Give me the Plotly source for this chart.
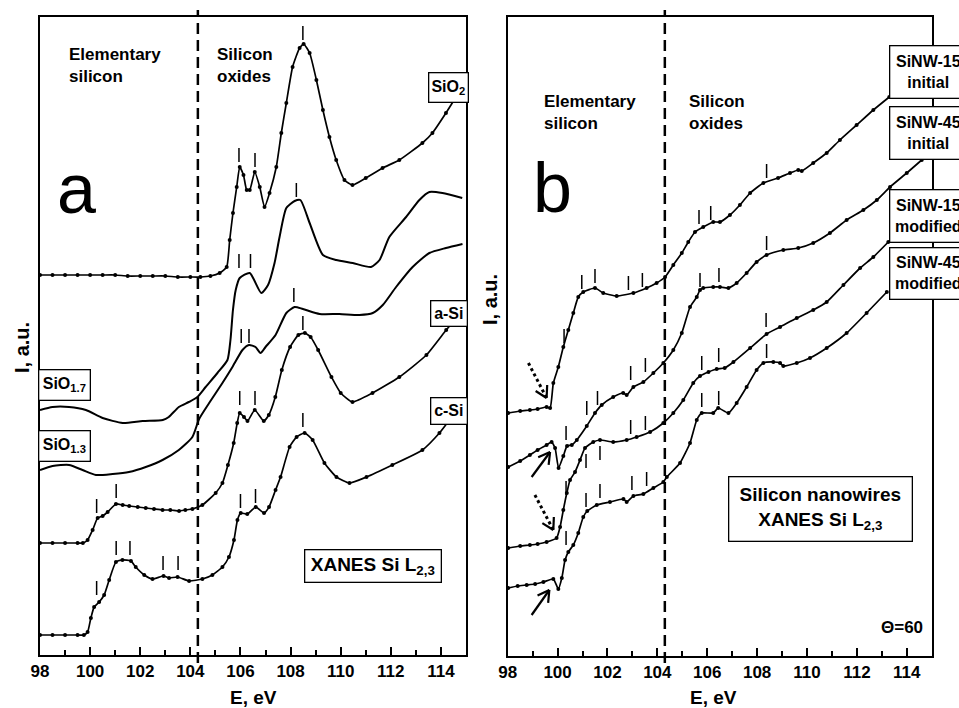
import numpy as np
import plotly.graph_objects as go

W, H = 959, 708
FONT = "Liberation Sans"

# ---------------- Panel a data (E in eV, I in a.u.) ----------------
E_sio2 = [98.0, 98.5, 99.0, 99.5, 100.0, 100.5, 101.0, 101.5, 102.0, 102.5, 103.0, 103.5, 104.0, 104.4, 104.8,
          105.17, 105.45, 105.57, 105.7, 105.85, 105.97, 106.12, 106.25, 106.37, 106.57, 106.77, 106.96, 107.16,
          107.43, 107.63, 107.83, 108.08, 108.36, 108.52, 108.76, 109.03, 109.29, 109.55, 109.82, 110.15, 110.47,
          111.0, 111.67, 112.34, 113.26, 113.66, 114.2, 114.6]
I_sio2 = [3.80, 3.80, 3.80, 3.80, 3.80, 3.80, 3.80, 3.79, 3.79, 3.79, 3.79, 3.78, 3.78, 3.78, 3.79,
          3.82, 3.88, 4.15, 4.42, 4.68, 4.88, 4.80, 4.65, 4.65, 4.83, 4.68, 4.48, 4.62,
          4.88, 5.22, 5.52, 5.88, 6.07, 6.11, 6.02, 5.75, 5.45, 5.18, 4.95, 4.75, 4.70,
          4.77, 4.87, 4.95, 5.12, 5.22, 5.42, 5.58]

E_sio17 = [98.0, 98.5, 99.16, 99.83, 100.5, 101.3, 102.1, 102.9, 103.14, 103.54, 103.94, 104.28, 104.61, 105.08,
           105.48, 105.6, 105.7, 105.81, 105.97, 106.37, 106.83, 107.1, 107.36, 107.56, 107.83, 108.16, 108.39,
           108.76, 109.29, 109.82, 110.48, 111.21, 111.55, 111.94, 112.61, 113.14, 113.54, 114.06, 114.85]
I_sio17 = [2.45, 2.48, 2.48, 2.45, 2.37, 2.32, 2.34, 2.35, 2.38, 2.48, 2.53, 2.58, 2.68, 2.82,
           2.95, 3.15, 3.45, 3.65, 3.77, 3.82, 3.62, 3.70, 3.92, 4.18, 4.47, 4.54, 4.55,
           4.32, 4.00, 3.95, 3.92, 3.88, 3.95, 4.18, 4.38, 4.55, 4.63, 4.62, 4.57]

E_sio13 = [98.0, 98.5, 99.16, 99.7, 100.23, 100.9, 101.55, 102.22, 102.89, 103.54, 104.08, 104.35, 104.75, 105.28,
           105.68, 106.08, 106.34, 106.6, 106.8, 107.0, 107.4, 107.83, 108.16, 108.49, 109.16, 109.95, 110.75,
           111.28, 111.68, 112.21, 112.87, 113.54, 114.2, 114.86]
I_sio13 = [1.85, 1.89, 1.90, 1.85, 1.80, 1.81, 1.83, 1.88, 1.95, 2.05, 2.18, 2.36, 2.52, 2.72,
           2.88, 3.05, 3.10, 3.08, 3.02, 3.08, 3.20, 3.42, 3.48, 3.46, 3.41, 3.41, 3.40,
           3.42, 3.50, 3.68, 3.88, 4.02, 4.07, 4.11]

E_asi = [98.0, 98.5, 99.0, 99.5, 99.71, 99.9, 100.1, 100.3, 100.5, 100.7, 101.03, 101.3, 101.56, 101.9, 102.22,
         102.55, 102.89, 103.2, 103.55, 103.8, 104.08, 104.48, 105.01, 105.28, 105.5, 105.73, 105.87, 105.97,
         106.14, 106.28, 106.57, 106.93, 107.13, 107.39, 107.65, 107.98, 108.31, 108.57, 108.8, 109.1, 109.63,
         110.0, 110.47, 111.27, 112.34, 113.42, 114.21, 114.45]
I_asi = [1.12, 1.12, 1.12, 1.12, 1.12, 1.15, 1.25, 1.37, 1.39, 1.43, 1.51, 1.50, 1.49, 1.48, 1.47,
         1.46, 1.45, 1.45, 1.44, 1.45, 1.46, 1.50, 1.62, 1.72, 1.90, 2.12, 2.32, 2.42,
         2.38, 2.34, 2.45, 2.34, 2.40, 2.58, 2.85, 3.08, 3.20, 3.22, 3.18, 3.05, 2.78,
         2.62, 2.53, 2.62, 2.78, 3.00, 3.25, 3.32]

E_csi = [98.0, 98.5, 99.0, 99.5, 99.75, 99.9, 100.03, 100.16, 100.36, 100.56, 100.76, 101.03, 101.29, 101.63,
         101.82, 102.16, 102.49, 102.93, 103.15, 103.49, 103.95, 104.48, 104.88, 105.28, 105.54, 105.74, 105.88,
         106.01, 106.27, 106.61, 106.94, 107.14, 107.4, 107.6, 107.96, 108.24, 108.56, 108.88, 109.35, 109.83,
         110.35, 111.03, 112.06, 113.26, 113.94, 114.25]
I_csi = [0.20, 0.20, 0.20, 0.20, 0.20, 0.23, 0.37, 0.48, 0.53, 0.60, 0.75, 0.93, 0.95, 0.94,
         0.88, 0.80, 0.76, 0.79, 0.77, 0.78, 0.74, 0.76, 0.80, 0.88, 0.98, 1.15, 1.35,
         1.42, 1.41, 1.48, 1.42, 1.48, 1.65, 1.78, 2.08, 2.18, 2.22, 2.15, 1.92, 1.78,
         1.72, 1.78, 1.90, 2.05, 2.22, 2.32]

# peak markers (energy, lower end of the mark)
marks_a_E = [105.94, 106.58, 108.49, 108.23, 105.94, 106.4, 106.03, 106.34, 108.13,
             100.26, 101.04, 105.97, 106.58, 108.49,
             100.26, 101.04, 101.59, 102.91, 103.51, 106.0, 106.6, 108.49]
marks_a_I = [4.93, 4.88, 6.15, 4.58, 3.87, 3.87, 3.12, 3.12, 3.53,
             1.42, 1.57, 2.50, 2.50, 3.25,
             0.60, 1.00, 1.00, 0.85, 0.85, 1.47, 1.52, 2.28]

# ---------------- Panel b data ----------------
E_b1 = [98.02, 98.5, 98.89, 99.2, 99.56, 99.7, 99.83, 100.03, 100.23, 100.43, 100.63, 100.83, 101.03, 101.5,
        101.83, 102.37, 103.04, 103.57, 103.97, 104.31, 104.64, 104.98, 105.24, 105.51, 105.84, 106.24, 106.51,
        106.91, 107.31, 107.72, 108.25, 108.84, 109.32, 109.65, 109.79, 110.25, 110.79, 111.32, 111.99, 112.66, 113.3]
I_b1 = [2.43, 2.45, 2.46, 2.47, 2.49, 2.48, 2.73, 2.89, 3.09, 3.26, 3.43, 3.59, 3.64, 3.68,
        3.63, 3.60, 3.63, 3.68, 3.73, 3.79, 3.91, 4.03, 4.14, 4.24, 4.29, 4.34, 4.34,
        4.41, 4.51, 4.63, 4.73, 4.78, 4.83, 4.86, 4.85, 4.93, 5.03, 5.16, 5.31, 5.46, 5.59]

E_b2 = [98.02, 98.5, 98.89, 99.2, 99.56, 99.76, 99.9, 100.04, 100.23, 100.38, 100.57, 100.77, 101.17, 101.5,
        101.77, 102.23, 102.63, 102.77, 103.04, 103.44, 103.84, 104.24, 104.64, 104.98, 105.31, 105.58, 105.71,
        105.84, 106.24, 106.51, 106.85, 107.18, 107.58, 107.98, 108.38, 109.05, 109.65, 110.25, 110.92, 111.59,
        112.26, 112.8, 113.33, 114.0, 114.6]
I_b2 = [1.89, 1.95, 2.01, 2.06, 2.11, 2.14, 2.08, 1.88, 2.00, 2.10, 2.11, 2.16, 2.30, 2.43,
        2.51, 2.59, 2.63, 2.61, 2.69, 2.74, 2.83, 2.93, 3.06, 3.23, 3.49, 3.59, 3.66,
        3.68, 3.69, 3.69, 3.68, 3.73, 3.83, 3.94, 4.01, 4.06, 4.08, 4.13, 4.23, 4.36,
        4.46, 4.56, 4.69, 4.83, 4.96]

E_b3 = [98.02, 98.5, 98.89, 99.2, 99.56, 99.96, 100.1, 100.23, 100.37, 100.5, 100.7, 100.9, 101.1, 101.43,
        101.7, 102.23, 102.77, 103.17, 103.71, 104.24, 104.64, 105.04, 105.44, 105.71, 106.05, 106.38, 106.7,
        107.05, 107.72, 108.38, 108.92, 109.59, 110.25, 110.79, 111.46, 112.13, 112.66, 113.26]
I_b3 = [1.08, 1.10, 1.11, 1.12, 1.14, 1.18, 1.29, 1.46, 1.63, 1.76, 1.84, 1.96, 2.08, 2.14,
        2.16, 2.14, 2.16, 2.19, 2.24, 2.33, 2.43, 2.56, 2.73, 2.80, 2.84, 2.87, 2.88,
        2.94, 3.08, 3.22, 3.29, 3.38, 3.46, 3.54, 3.71, 3.88, 3.99, 4.14]

E_b4 = [98.02, 98.4, 98.76, 99.1, 99.43, 99.83, 100.03, 100.17, 100.3, 100.43, 100.63, 100.83, 101.03, 101.19,
        101.57, 102.1, 102.64, 102.77, 103.04, 103.44, 103.84, 104.24, 104.38, 104.91, 105.31, 105.58, 105.78,
        106.24, 106.44, 106.85, 107.18, 107.58, 107.98, 108.25, 108.65, 108.92, 109.05, 109.59, 110.12, 110.79,
        111.59, 112.39, 113.2]
I_b4 = [0.68, 0.70, 0.71, 0.72, 0.74, 0.77, 0.67, 0.78, 0.96, 1.04, 1.11, 1.23, 1.39, 1.45,
        1.51, 1.54, 1.57, 1.54, 1.60, 1.62, 1.68, 1.74, 1.79, 1.93, 2.13, 2.36, 2.43,
        2.43, 2.48, 2.43, 2.53, 2.69, 2.86, 2.93, 2.94, 2.93, 2.90, 2.93, 2.98, 3.08,
        3.23, 3.43, 3.64]

marks_b_E = [100.26, 100.97, 101.5, 102.84, 103.4, 105.67, 106.14, 108.38,
             100.34, 101.17, 101.6, 102.93, 103.52, 105.71, 106.47, 108.38,
             100.34, 101.14, 101.7, 102.93, 103.52, 105.78, 106.46, 108.36,
             100.34, 101.14, 101.7, 102.98, 103.57, 105.78, 106.46, 108.38]
marks_b_I = [3.13, 3.67, 3.73, 3.66, 3.69, 4.32, 4.36, 4.78,
             2.16, 2.41, 2.51, 2.76, 2.84, 3.69, 3.74, 4.06,
             1.61, 1.88, 1.96, 2.22, 2.26, 2.86, 2.94, 3.29,
             1.11, 1.49, 1.58, 1.66, 1.70, 2.49, 2.51, 2.98]

# arrows in panel b (tail -> tip)
arrow_tail_E = [98.83, 99.09, 98.96, 98.96]
arrow_tail_I = [2.93, 1.61, 1.79, 0.41]
arrow_tip_E = [99.56, 99.83, 99.70, 99.67]
arrow_tip_I = [2.58, 1.26, 2.04, 0.66]
arrow_dotted = [True, True, False, False]

DIVIDE_E = 104.3
x_ticks = [98, 100, 102, 104, 106, 108, 110, 112, 114]

# ---------------- layout helpers (pixel -> paper) ----------------
def PX(x):
    return x / W


def PY(y):
    return 1 - y / H


XA_DOM = [PX(40), PX(466)]
XB_DOM = [PX(507.7), PX(931.7)]
YA_DOM = [PY(655), PY(17)]
YB_DOM = [PY(656), PY(17)]
YA_RANGE = [0, 6.38]
YB_RANGE = [0, 6.39]

fig = go.Figure()


def add_curve(E, I, xa, ya, dotted):
    if dotted:
        fig.add_trace(go.Scatter(x=E, y=I, xaxis=xa, yaxis=ya, mode="lines+markers",
                                 line=dict(color="black", width=1.7, shape="spline", smoothing=0.5),
                                 marker=dict(color="black", size=4),
                                 showlegend=False, hoverinfo="skip"))
    else:
        fig.add_trace(go.Scatter(x=E, y=I, xaxis=xa, yaxis=ya, mode="lines",
                                 line=dict(color="black", width=2, shape="spline", smoothing=0.6),
                                 showlegend=False, hoverinfo="skip"))


def add_marks(E, I, xa, ya, L=0.14):
    xs, ys = [], []
    for e, i in zip(E, I):
        xs += [e, e, None]
        ys += [i, i + L, None]
    fig.add_trace(go.Scatter(x=xs, y=ys, xaxis=xa, yaxis=ya, mode="lines",
                             line=dict(color="black", width=1.5), showlegend=False, hoverinfo="skip"))


add_curve(E_sio2, I_sio2, "x", "y", True)
add_curve(E_sio17, I_sio17, "x", "y", False)
add_curve(E_sio13, I_sio13, "x", "y", False)
add_curve(E_asi, I_asi, "x", "y", True)
add_curve(E_csi, I_csi, "x", "y", True)
add_marks(marks_a_E, marks_a_I, "x", "y")

add_curve(E_b1, I_b1, "x2", "y2", True)
add_curve(E_b2, I_b2, "x2", "y2", True)
add_curve(E_b3, I_b3, "x2", "y2", True)
add_curve(E_b4, I_b4, "x2", "y2", True)
add_marks(marks_b_E, marks_b_I, "x2", "y2")

# arrows (pixel scale of panel b for the heads)
sx = (XB_DOM[1] - XB_DOM[0]) * W / 17.0
sy = (YB_DOM[1] - YB_DOM[0]) * H / (YB_RANGE[1] - YB_RANGE[0])
for x0, y0, x1, y1, dot in zip(arrow_tail_E, arrow_tail_I, arrow_tip_E, arrow_tip_I, arrow_dotted):
    fig.add_trace(go.Scatter(x=[x0, x1], y=[y0, y1], xaxis="x2", yaxis="y2", mode="lines",
                             line=dict(color="black", width=3 if dot else 2.2, dash="dot" if dot else "solid"),
                             showlegend=False, hoverinfo="skip"))
    d = np.array([(x0 - x1) * sx, (y0 - y1) * sy])
    d = d / np.linalg.norm(d) * 13
    hx, hy = [], []
    for ang in (np.radians(30), np.radians(-30)):
        r = np.array([d[0] * np.cos(ang) - d[1] * np.sin(ang), d[0] * np.sin(ang) + d[1] * np.cos(ang)])
        hx += [x1 + r[0] / sx, x1, None]
        hy += [y1 + r[1] / sy, y1, None]
    fig.add_trace(go.Scatter(x=hx, y=hy, xaxis="x2", yaxis="y2", mode="lines",
                             line=dict(color="black", width=2.2), showlegend=False, hoverinfo="skip"))

# dashed separators
for xr in ("x", "x2"):
    fig.add_shape(type="line", xref=xr, yref="paper", x0=DIVIDE_E, x1=DIVIDE_E,
                  y0=PY(663), y1=PY(10), line=dict(color="black", width=2.5, dash="11px,6px"))

tickfont = dict(family=FONT, size=17, color="black", weight="bold")
xcommon = dict(range=[98, 115], tickmode="array", tickvals=x_ticks, ticktext=[str(v) for v in x_ticks],
               ticks="inside", ticklen=8, tickwidth=1.5, tickcolor="black",
               minor=dict(dtick=1, tick0=98, ticks="inside", ticklen=5, tickwidth=1.5, tickcolor="black"),
               showline=True, linecolor="black", linewidth=2, mirror=True,
               showgrid=False, zeroline=False, tickfont=tickfont, fixedrange=True)
ycommon = dict(showline=True, linecolor="black", linewidth=2, mirror=True, ticks="",
               showticklabels=False, showgrid=False, zeroline=False, fixedrange=True)

fig.update_layout(
    width=W, height=H, margin=dict(l=0, r=0, t=0, b=0),
    paper_bgcolor="white", plot_bgcolor="white", template="none", showlegend=False,
    xaxis=dict(domain=XA_DOM, anchor="y", **xcommon),
    yaxis=dict(domain=YA_DOM, anchor="x", range=YA_RANGE, **ycommon),
    xaxis2=dict(domain=XB_DOM, anchor="y2", **xcommon),
    yaxis2=dict(domain=YB_DOM, anchor="x2", range=YB_RANGE, **ycommon),
)

ann = []


def text(t, x, y, size, xanchor="center", yanchor="middle", bold=True, align="center", angle=0):
    ann.append(dict(text=t, x=PX(x), y=PY(y), xref="paper", yref="paper", xanchor=xanchor, yanchor=yanchor,
                    showarrow=False, align=align, textangle=angle,
                    font=dict(family=FONT, size=size, color="black", weight="bold" if bold else "normal")))


def box(t, cx, cy, w, h, size):
    ann.append(dict(text=t, x=PX(cx), y=PY(cy), xref="paper", yref="paper", xanchor="center", yanchor="middle",
                    showarrow=False, align="center", width=w, height=h, borderpad=0,
                    bgcolor="white", bordercolor="black", borderwidth=1.3,
                    font=dict(family=FONT, size=size, color="black", weight="bold")))


# panel a texts
text("Elementary<br>silicon", 67, 66, 17, xanchor="left", align="left")
text("Silicon<br>oxides", 215, 66, 17, xanchor="left", align="left")
text("a", 76, 189, 70, bold=False)
box("SiO<sub>2</sub>", 448, 87, 38, 28, 16)
box("a-Si", 448.5, 313, 35, 24, 16)
box("c-Si", 448.5, 410.5, 35, 25, 16)
box("SiO<sub>1.7</sub>", 64, 384.5, 50, 29, 16)
box("SiO<sub>1.3</sub>", 64, 445.5, 50, 29, 16)
box("XANES Si L<sub>2,3</sub>", 372.5, 565.5, 135, 31, 19)
text("E, eV", 253, 697, 19)
text("I, a.u.", 22, 348, 20, angle=-90)

# panel b texts
text("Elementary<br>silicon", 542, 113, 17, xanchor="left", align="left")
text("Silicon<br>oxides", 687, 113, 17, xanchor="left", align="left")
text("b", 552, 188, 70, bold=False)
box("SiNW-15<br>initial", 928, 71.5, 76, 51, 16)
box("SiNW-45<br>initial", 928, 132.5, 76, 51, 16)
box("SiNW-15<br>modified", 928, 215.5, 76, 51, 16)
box("SiNW-45<br>modified", 928, 274, 76, 50, 16)
box("Silicon nanowires<br>XANES Si L<sub>2,3</sub>", 820, 508.5, 182, 63, 19)
text("\u0398=60", 925, 627, 17, xanchor="right")
text("E, eV", 713, 697, 19)
text("I, a.u.", 490, 300, 20, angle=-90)

fig.update_layout(annotations=ann)
fig.write_html("out.html", config={"displayModeBar": False},
               post_script="document.body.style.margin='0px';document.body.style.overflow='hidden';")
